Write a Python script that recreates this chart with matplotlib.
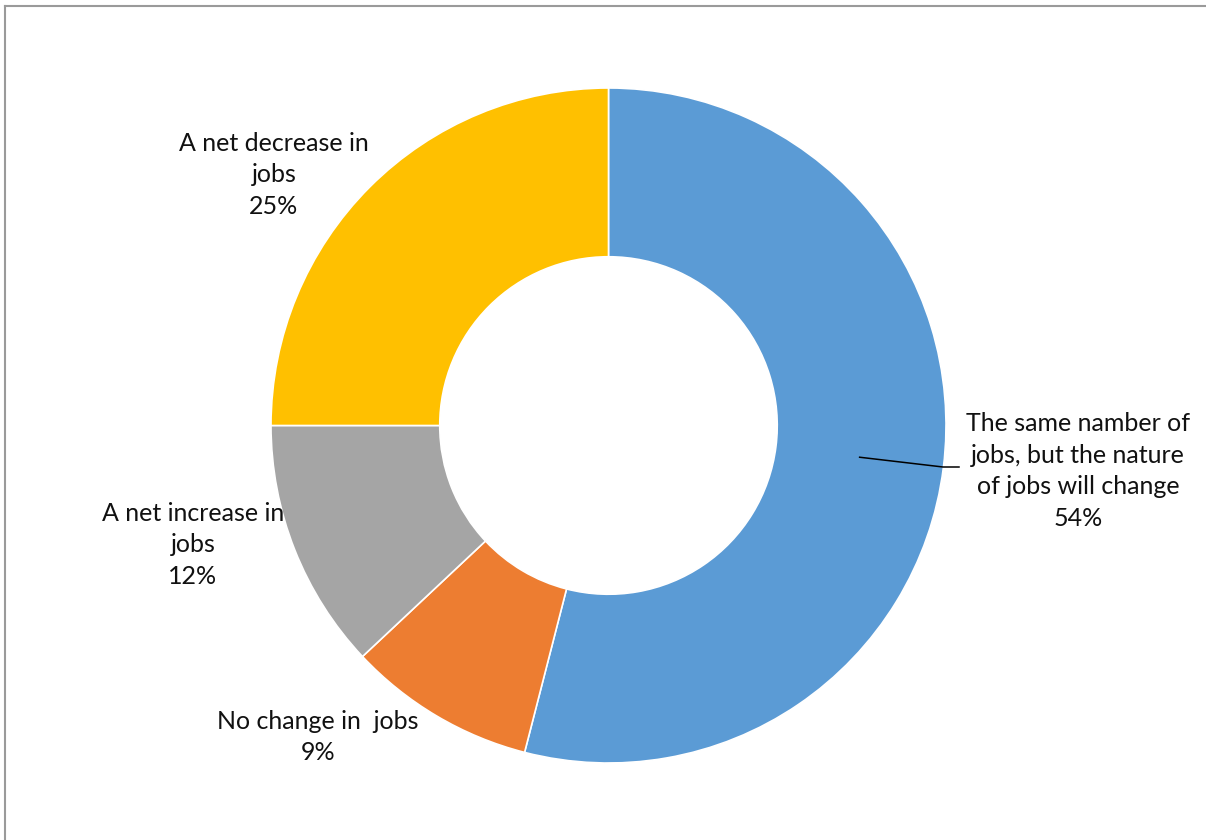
import matplotlib.pyplot as plt
import numpy as np

# chart data
labels = ['The same namber of\njobs, but the nature\nof jobs will change',
          'No change in  jobs',
          'A net increase in\njobs',
          'A net decrease in\njobs']
shares = [54, 9, 12, 25]
colors = ['#5B9BD5', '#ED7D31', '#A5A5A5', '#FFC000']
caption = 'Figure 4 shows the business expectations of the impact of automation on changes in the number of jobs.'

W, H = 1206, 840
fig = plt.figure(figsize=(W / 100, H / 100), dpi=100)
ax = fig.add_axes([0, 0, 1, 1])

cx, cy = 608.5, H - 425.5
R = 337.5
ring = 0.5

wedges, _ = ax.pie(shares, colors=colors, startangle=90, counterclock=False,
                   center=(cx, cy), radius=R, frame=True,
                   wedgeprops=dict(width=R * ring, edgecolor='white', linewidth=1.2))
ax.set_xlim(0, W)
ax.set_ylim(0, H)
ax.set_aspect('equal')
ax.axis('off')

lab_font = dict(family=['Lato', 'DejaVu Sans'], fontsize=18, color='#111111',
                ha='center', va='center', linespacing=1.45)
# label centers (pixel coords from top-left)
lab_pos = [(1078, 471), (318, 737), (193, 545), (274, 175)]
for lab, val, (px, py) in zip(labels, shares, lab_pos):
    ax.text(px, H - py, '%s\n%d%%' % (lab, val), **lab_font)

# leader line for the big slice
mid = np.deg2rad(90 - shares[0] * 3.6 / 2)
rm = R * (1 - ring / 2)
x0, y0 = cx + rm * np.cos(mid), cy + rm * np.sin(mid)
ax.plot([x0, 943, 959], [y0, H - 467, H - 467], color='black', lw=1.1)

# clipped caption line at the top of the page
fig.text(0.5, 1 + 5 / H, caption, ha='center', va='baseline',
         family=['Liberation Serif'], fontsize=18)

# frame of the chart area
fig.add_artist(plt.Line2D([5 / W, 5 / W], [0, 1 - 6 / H], color='#9A9A9A', lw=1.5))
fig.add_artist(plt.Line2D([5 / W, 1], [1 - 6 / H, 1 - 6 / H], color='#9A9A9A', lw=1.5))

fig.savefig('out.png', dpi=100)
